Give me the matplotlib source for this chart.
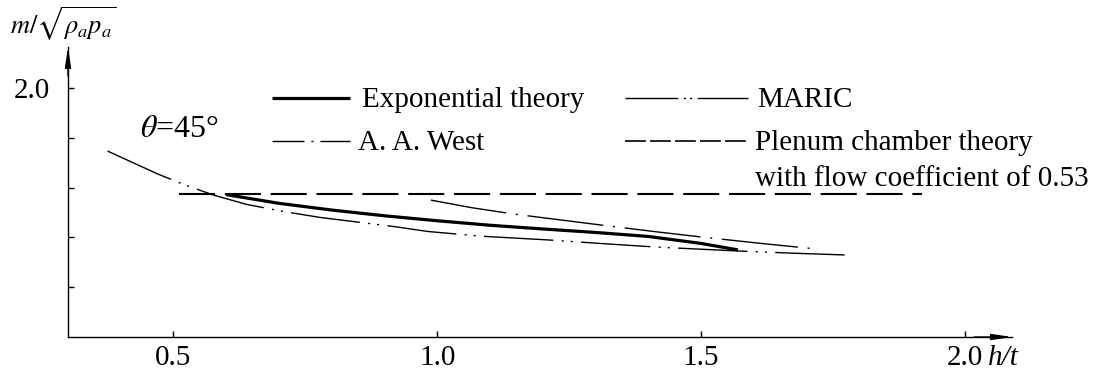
import matplotlib
matplotlib.use("Agg")
import matplotlib.pyplot as plt
from matplotlib.lines import Line2D

plt.rcParams['font.family'] = ['Liberation Serif', 'DejaVu Serif']
plt.rcParams['mathtext.fontset'] = 'stix'
plt.rcParams['lines.scale_dashes'] = False

# flow parameter vs h/t, theta = 45 deg
exp_ht = [0.60, 0.70, 0.80, 0.90, 1.00, 1.10, 1.20, 1.30, 1.40, 1.50, 1.57]
exp_m = [1.572, 1.537, 1.510, 1.487, 1.467, 1.449, 1.434, 1.420, 1.404,
         1.376, 1.350]

maric_ht = [0.375, 0.470, 0.523, 0.576, 0.640, 0.709, 0.779, 0.917, 0.982,
            1.083, 1.210, 1.329, 1.418, 1.576, 1.671, 1.781]
maric_m = [1.747, 1.655, 1.610, 1.570, 1.532, 1.504, 1.480, 1.444, 1.424,
           1.405, 1.390, 1.373, 1.361, 1.345, 1.337, 1.329]

west_ht = [0.988, 1.064, 1.145, 1.250, 1.329, 1.418, 1.500, 1.614, 1.722]
west_m = [1.550, 1.520, 1.494, 1.466, 1.445, 1.422, 1.402, 1.376, 1.353]

plenum_ht = [0.51, 1.92]
plenum_m = [1.574, 1.574]

xticks = [0.5, 1.0, 1.5, 2.0]
xtick_labels = ['0.5', '1.0', '1.5', '2.0']
yticks = [1.2, 1.4, 1.6, 1.8, 2.0]
ytick_labels = ['', '', '', '', '2.0']

W, H = 1095, 383
fs = 21
fig = plt.figure(figsize=(W / 100, H / 100), dpi=100)
ax = fig.add_axes([68 / W, 1 - 337 / H, (1012 - 68) / W, (337 - 47) / H])

ax.plot(exp_ht, exp_m, color='black', lw=2.3, solid_capstyle='butt')
ax.plot(maric_ht, maric_m, color='black', lw=1.0,
        linestyle=(0, (50, 6, 1.5, 5, 1.5, 6)))
ax.plot(west_ht, west_m, color='black', lw=1.0,
        linestyle=(0, (55, 7, 1.5, 7)))
ax.plot(plenum_ht, plenum_m, color='black', lw=1.5,
        linestyle=(0, (26, 7)))

ax.set_xlim(0.30, 2.09)
ax.set_ylim(1.0, 2.165)
for s in ['top', 'right']:
    ax.spines[s].set_visible(False)
for s in ['left', 'bottom']:
    ax.spines[s].set_linewidth(1.0)

ax.set_xticks(xticks)
ax.set_xticklabels(xtick_labels)
ax.set_yticks(yticks)
ax.set_yticklabels(ytick_labels)
ax.tick_params(direction='in', length=4.5, width=1.0, labelsize=fs)
ax.tick_params(axis='x', pad=6)
ax.tick_params(axis='y', pad=13)

# axis arrows
arrow = dict(arrowstyle='-|>,head_length=1.2,head_width=0.18', color='black',
             lw=1.0, shrinkA=0, shrinkB=0)
ax.annotate('', xy=(1, 0), xytext=(0.96, 0), xycoords='axes fraction',
            arrowprops=arrow, annotation_clip=False)
ax.annotate('', xy=(0, 1), xytext=(0, 0.90), xycoords='axes fraction',
            arrowprops=arrow, annotation_clip=False)

ax.annotate('h/t', xy=(2.0, 0), xycoords=('data', 'axes fraction'),
            xytext=(17, -6), textcoords='offset points', ha='left', va='top',
            fontsize=fs, fontstyle='italic')
fig.text(10 / W, 1 - 24 / H, r'$m/\sqrt{\rho_a p_a}$', fontsize=19,
         ha='left', va='center')
fig.text(140 / W, 1 - 130 / H, r'$\theta$=45°', fontsize=23,
         ha='left', va='center')

# key
def key(x0, x1, y, text_x, label, **kw):
    fig.add_artist(Line2D([x0 / W, x1 / W], [1 - y / H, 1 - y / H],
                          color='black', **kw))
    fig.text(text_x / W, 1 - (y + 2) / H, label, fontsize=fs,
             ha='left', va='center')

key(272, 350, 98, 362, 'Exponential theory', lw=2.3, solid_capstyle='butt')
key(272, 350, 141, 358, 'A. A. West', lw=1.0,
    linestyle=(0, (23, 5, 1.5, 5)))
key(625, 748, 98, 757, 'MARIC', lw=1.0,
    linestyle=(0, (38, 4, 1.5, 3, 1.5, 4)))
key(625, 748, 141, 755, 'Plenum chamber theory', lw=1.2,
    linestyle=(0, (15, 3)))
fig.text(755 / W, 1 - 179 / H, 'with flow coefficient of 0.53', fontsize=fs,
         ha='left', va='center')

fig.savefig('out.png', dpi=100)
